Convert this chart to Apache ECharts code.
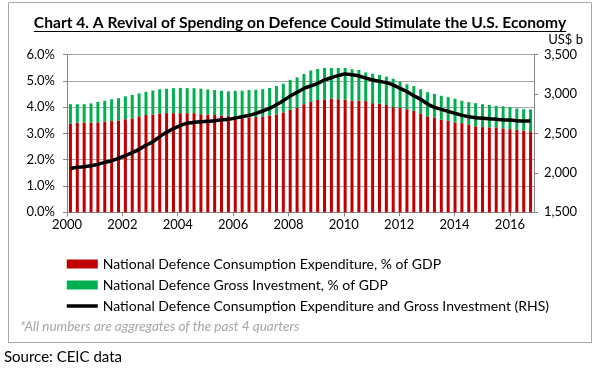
<!DOCTYPE html>
<html><head><meta charset="utf-8">
<script src="https://cdn.jsdelivr.net/npm/echarts@6/dist/echarts.min.js"></script>
<style>html,body{margin:0;padding:0;background:#fff}#c{width:600px;height:373px}</style>
</head><body><div id="c"></div>
<script>
// ---- data ----
const years = [2000,2001,2002,2003,2004,2005,2006,2007,2008,2009,2010,2011,2012,2013,2014,2015,2016];
const quarters = ['Q1','Q2','Q3','Q4'];
const categories = years.flatMap(y => quarters.map(q => y + q));
const yearTickLabels = ['2000','2002','2004','2006','2008','2010','2012','2014','2016'];

const consumptionPct = [
  3.38,3.41,3.41,3.41, 3.42,3.44,3.47,3.49, 3.54,3.57,3.65,3.70, 3.72,3.76,3.77,3.77,
  3.77,3.77,3.77,3.73, 3.72,3.70,3.68,3.67, 3.65,3.62,3.61,3.62, 3.65,3.68,3.72,3.80,
  3.90,3.97,4.11,4.20, 4.27,4.29,4.32,4.30, 4.29,4.25,4.25,4.23, 4.15,4.13,4.08,4.00,
  3.97,3.92,3.86,3.76, 3.65,3.61,3.52,3.48, 3.42,3.39,3.34,3.27, 3.24,3.23,3.23,3.19,
  3.16,3.14,3.10,3.08
];
const investmentPct = [
  0.73,0.70,0.70,0.73, 0.78,0.80,0.83,0.85, 0.87,0.89,0.87,0.88, 0.91,0.92,0.93,0.95,
  0.96,0.95,0.95,0.97, 0.95,0.95,0.94,0.93, 0.97,1.00,1.04,1.04, 1.03,1.05,1.08,1.09,
  1.13,1.16,1.15,1.19, 1.18,1.20,1.17,1.19, 1.20,1.19,1.16,1.09, 1.12,1.09,1.08,1.08,
  1.00,0.95,0.94,0.92, 0.92,0.89,0.91,0.90, 0.90,0.85,0.85,0.88, 0.87,0.85,0.82,0.84,
  0.84,0.81,0.82,0.83
];
const totalSpendingUSDb = [
  2053,2070,2078,2091, 2108,2133,2154,2184, 2218,2256,2298,2349, 2395,2459,2514,2560,
  2600,2628,2640,2649, 2653,2661,2670,2678, 2695,2712,2729,2754, 2784,2818,2864,2915,
  2974,3020,3071,3101, 3135,3177,3206,3232, 3253,3244,3228,3202, 3177,3160,3143,3113,
  3071,3029,2978,2932, 2873,2830,2805,2780, 2754,2729,2712,2699, 2691,2687,2678,2670,
  2670,2661,2657,2657
];

const titleText = 'Chart 4. A Revival of Spending on Defence Could Stimulate the U.S. Economy';
const seriesNames = [
  'National Defence Consumption Expenditure, % of GDP',
  'National Defence Gross Investment, % of GDP',
  'National Defence Consumption Expenditure and Gross Investment (RHS)'
];

// ---- chart ----
const FONT = 'Lato, "Open Sans", sans-serif';
const titleSize = 15.6;
const mctx = document.createElement('canvas').getContext('2d');
mctx.font = 'bold ' + titleSize + 'px Lato';
const titleW = mctx.measureText(titleText).width;

const chart = echarts.init(document.getElementById('c'), null, {renderer: 'canvas'});
const axisGrey = '#868686';
chart.setOption({
  animation: false,
  textStyle: {fontFamily: FONT},
  title: {
    text: titleText, left: 'center', top: 15, padding: 0,
    textStyle: {fontSize: titleSize, fontWeight: 'bold', color: '#000', fontFamily: FONT}
  },
  grid: {left: 67, right: 66, top: 54.5, bottom: 160.7, containLabel: false},
  legend: {
    orient: 'vertical', left: 65, top: 257, padding: 0,
    itemWidth: 31, itemHeight: 9, itemGap: 7,
    textStyle: {fontSize: 14, color: '#000', fontFamily: FONT},
    data: [
      {name: seriesNames[0], icon: 'rect'},
      {name: seriesNames[1], icon: 'rect'},
      {name: seriesNames[2], itemStyle: {opacity: 0}, lineStyle: {width: 3.5, color: '#000'}}
    ]
  },
  xAxis: [
    {
      type: 'category', data: categories, boundaryGap: true,
      axisLine: {lineStyle: {color: axisGrey}},
      axisTick: {show: false}, axisLabel: {show: false}
    },
    {
      type: 'value', min: 2000, max: 2016.87, interval: 2, position: 'bottom',
      axisLine: {show: false, onZero: false}, splitLine: {show: false},
      axisTick: {show: true, length: 4, lineStyle: {color: axisGrey}},
      axisLabel: {
        fontSize: 13, color: '#000', margin: 6, showMaxLabel: false,
        formatter: v => yearTickLabels.includes(String(v)) ? String(v) : ''
      }
    }
  ],
  yAxis: [
    {
      type: 'value', min: 0, max: 6, interval: 1,
      axisLine: {show: true, lineStyle: {color: axisGrey}},
      axisTick: {show: true, length: 4, lineStyle: {color: axisGrey}},
      splitLine: {lineStyle: {color: '#a6a6a6'}},
      axisLabel: {formatter: v => v.toFixed(1) + '%', fontSize: 13, color: '#000', margin: 12}
    },
    {
      type: 'value', min: 1500, max: 3500, interval: 500, position: 'right',
      axisLine: {show: true, lineStyle: {color: axisGrey}},
      axisTick: {show: true, length: 4, lineStyle: {color: axisGrey}},
      splitLine: {show: false},
      axisLabel: {formatter: v => v.toLocaleString('en-US'), fontSize: 13, color: '#000', margin: 10}
    }
  ],
  series: [
    {name: seriesNames[0], type: 'bar', stack: 'pct', data: consumptionPct, barWidth: 3,
     itemStyle: {color: '#c00000'}},
    {name: seriesNames[1], type: 'bar', stack: 'pct', data: investmentPct, barWidth: 3,
     itemStyle: {color: '#00b050'}},
    {name: seriesNames[2], type: 'line', yAxisIndex: 1, data: totalSpendingUSDb,
     symbol: 'none', smooth: 0.2, z: 5,
     lineStyle: {color: '#000', width: 3.5}, itemStyle: {color: '#000'}}
  ],
  graphic: [
    {type: 'rect', shape: {x: 8.5, y: 2.5, width: 583, height: 340}, silent: true,
     style: {fill: 'none', stroke: '#a6a6a6', lineWidth: 1}},
    {type: 'line', shape: {x1: 300 - titleW / 2, y1: 31.5, x2: 300 + titleW / 2, y2: 31.5},
     style: {stroke: '#000', lineWidth: 1}},
    {type: 'text', x: 583, y: 40, style: {text: 'US$ b', fill: '#000', font: '13px Lato',
     textAlign: 'right', textVerticalAlign: 'middle'}},
    {type: 'text', x: 20, y: 327, style: {text: '*All numbers are aggregates of the past 4 quarters',
     fill: '#a6a6a6', font: 'italic 13.5px Lato', textVerticalAlign: 'middle'}},
    {type: 'text', x: 4, y: 357, style: {text: 'Source: CEIC data', fill: '#000',
     font: '15px Lato', textVerticalAlign: 'middle'}}
  ]
});
</script>
</body></html>
